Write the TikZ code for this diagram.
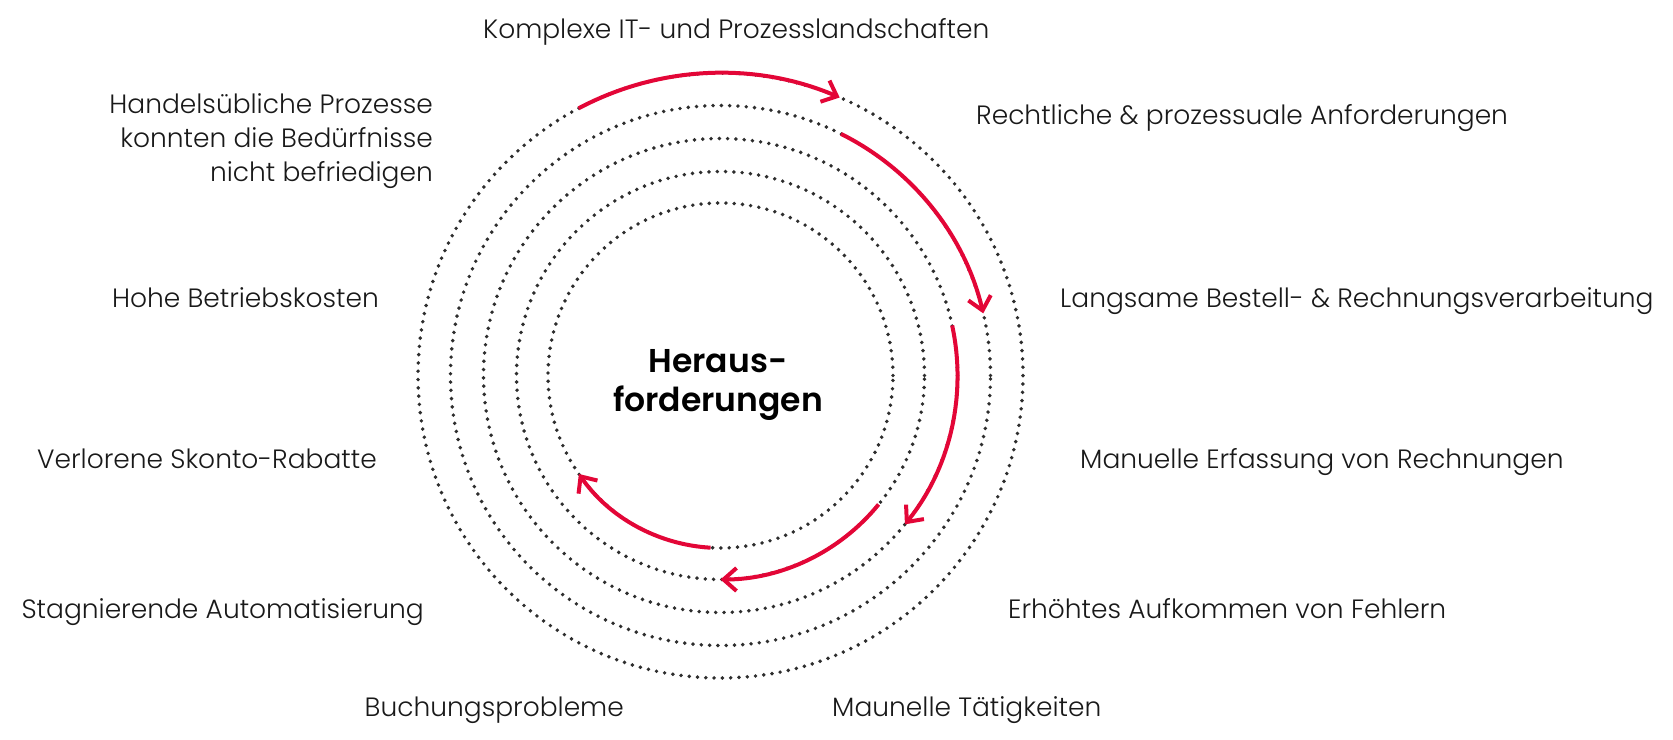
\documentclass[tikz,border=0pt]{standalone}
\usepackage{fontspec}
\IfFontExistsTF{Poppins Light}{\setmainfont{Poppins Light}}{\setmainfont{Poppins}}
\IfFontExistsTF{Poppins SemiBold}{\newfontfamily\titlefont{Poppins SemiBold}}{\newcommand\titlefont{\bfseries}}
\usetikzlibrary{arrows.meta}
\definecolor{crim}{RGB}{227,6,55}
\definecolor{dotgray}{RGB}{45,45,45}
\definecolor{txt}{RGB}{25,25,25}
\begin{document}
\begin{tikzpicture}[x=1pt,y=1pt,
  dotring/.style={draw=dotgray, line width=3.9pt, line cap=round, dash pattern=on 0pt off 8.3pt},
  flow/.style={draw=crim, line width=4pt, -{Straight Barb[length=13pt,width=23pt]}},
  lab/.style={font=\fontsize{26.5}{34}\selectfont, text=txt, inner sep=0pt},
  title/.style={font=\titlefont\fontsize{33}{39.5}\selectfont, text=black, align=center, inner sep=0pt}]
\useasboundingbox (0,0) rectangle (1673,739);
\coordinate (C) at (720.5,363.5);
\foreach \r in {172.5,204,237,270,302.5} \draw[dotring] (C) circle[radius=\r];
\draw[flow] ([shift={(118:302.5)}]C) coordinate (a1) arc[start angle=118,end angle=66.8,radius=302.5];
\draw[flow] ([shift={(63.5:270)}]C) coordinate (a2) arc[start angle=63.5,end angle=13.3,radius=270];
\draw[flow] ([shift={(12.2:237)}]C) coordinate (a3) arc[start angle=12.2,end angle=-38.9,radius=237];
\draw[flow] ([shift={(-39.2:204)}]C) coordinate (a4) arc[start angle=-39.2,end angle=-90,radius=204];
\draw[flow] ([shift={(-93.3:172.5)}]C) coordinate (a5) arc[start angle=-93.3,end angle=-145.2,radius=172.5];
\node[lab, anchor=base west] (komplex) at (483,700) {Komplexe IT- und Prozesslandschaften};
\node[lab, anchor=base west] (recht) at (976,614) {Rechtliche \& prozessuale Anforderungen};
\node[lab, anchor=base west] (langsam) at (1060,431) {Langsame Bestell- \& Rechnungsverarbeitung};
\node[lab, anchor=base west] (manuell) at (1080,270) {Manuelle Erfassung von Rechnungen};
\node[lab, anchor=base west] (fehler) at (1008,120) {Erhöhtes Aufkommen von Fehlern};
\node[lab, anchor=base west] (taetig) at (832,23) {Maunelle Tätigkeiten};
\node[lab, anchor=base east] (buchung) at (624,23) {Buchungsprobleme};
\node[lab, anchor=base east] (stagn) at (424,120) {Stagnierende Automatisierung};
\node[lab, anchor=base east] (skonto) at (377,270) {Verlorene Skonto-Rabatte};
\node[lab, anchor=base east] (kosten) at (379,431) {Hohe Betriebskosten};
\node[lab, anchor=east, align=right] (handel) at (433,598) {Handelsübliche Prozesse\\konnten die Bedürfnisse\\nicht befriedigen};
\node[title] (center) at (718,354) {Heraus-\\forderungen};
\end{tikzpicture}
\end{document}
